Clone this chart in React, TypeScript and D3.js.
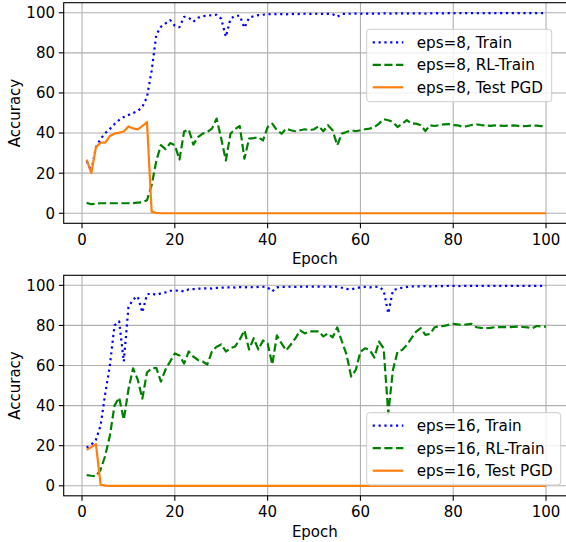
import React from "react";
import * as d3 from "d3";

// ---------- data ----------
const epochs: number[] = Array.from({ length: 100 }, (_, i) => i + 1);
const xTicks: number[] = [0, 20, 40, 60, 80, 100];
const yTicks: number[] = [0, 20, 40, 60, 80, 100];

const top8Labels: string[] = ["eps=8, Train", "eps=8, RL-Train", "eps=8, Test PGD"];
const bottom16Labels: string[] = ["eps=16, Train", "eps=16, RL-Train", "eps=16, Test PGD"];

const eps8Train: number[] = [
  26, 21, 33, 37, 40, 42, 44.5, 46.5, 48, 49,
  50, 51, 53, 58, 71, 89, 93, 94.7, 96.3, 93.5,
  92.8, 98, 97.5, 95.5, 97.5, 98.3, 98.5, 98.8, 99, 97,
  88, 97, 98.5, 98.5, 92.5, 97.5, 98.3, 98.8, 99, 99.3,
  99.2, 99.3, 99.3, 99.2, 99.4, 99.3, 99.4, 99.5, 99.4, 99.5,
  99.5, 99.4, 99.5, 99.3, 98, 99.4, 99.5, 99.5, 99.6, 99.5,
  99.6, 99.6, 99.5, 99.6, 99.7, 99.6, 99.6, 99.7, 99.7, 99.6,
  99.7, 99.7, 99.7, 99.6, 99.7, 99.8, 99.7, 99.7, 99.8, 99.8,
  99.7, 99.8, 99.8, 99.8, 99.8, 99.7, 99.8, 99.8, 99.8, 99.8,
  99.8, 99.8, 99.8, 99.8, 99.8, 99.8, 99.8, 99.8, 99.8, 99.8,
];
const eps8RL: number[] = [
  5.2, 4.5, 4.8, 5, 5, 5, 5, 5, 5, 5,
  5.1, 5.3, 5.5, 6.5, 14, 26, 34, 32, 35, 34,
  26.8, 40.8, 41.8, 34.2, 38, 39.7, 40.5, 42.2, 47.2, 37.2,
  26.3, 39.7, 42, 43.5, 27.2, 37.2, 37.5, 38, 36.3, 43,
  44.7, 41.4, 39.7, 42.2, 41.4, 40.9, 41.4, 41.9, 41.4, 41.9,
  43.5, 40.9, 43.9, 41.4, 33.9, 39.7, 40.5, 41.4, 40.9, 41.4,
  41.9, 42.2, 43, 44.7, 46.9, 46.4, 45.5, 43, 44.7, 46.4,
  44.7, 44.7, 43.9, 41, 43.9, 43.5, 44, 44.3, 44.5, 44,
  43.8, 43.2, 43.5, 44, 44.3, 44, 43.8, 43.6, 43.8, 43.7,
  43.6, 43.7, 43.8, 43.6, 43.5, 43.6, 43.8, 43.7, 43.5, 43.3,
];
const eps8PGD: number[] = [
  26.7, 20, 33, 35.2, 35.2, 38.5, 39.7, 40.2, 40.8, 43.3,
  42.3, 41.8, 43.5, 45.5, 0.8, 0.2, 0, 0, 0, 0,
  0, 0, 0, 0, 0, 0, 0, 0, 0, 0,
  0, 0, 0, 0, 0, 0, 0, 0, 0, 0,
  0, 0, 0, 0, 0, 0, 0, 0, 0, 0,
  0, 0, 0, 0, 0, 0, 0, 0, 0, 0,
  0, 0, 0, 0, 0, 0, 0, 0, 0, 0,
  0, 0, 0, 0, 0, 0, 0, 0, 0, 0,
  0, 0, 0, 0, 0, 0, 0, 0, 0, 0,
  0, 0, 0, 0, 0, 0, 0, 0, 0, 0,
];

const eps16Train: number[] = [
  19, 20.5, 23, 30, 46, 60, 80, 82, 62, 89,
  93, 94.5, 86.5, 95.5, 96, 95.2, 96, 96.5, 97.3, 97.3,
  97.5, 96.9, 98, 98.1, 98.3, 98.4, 98.5, 98.4, 98.7, 98.8,
  98.9, 99, 98.9, 99.1, 99, 99.2, 99, 99.2, 99.3, 99,
  97, 99, 99.2, 99.3, 99.3, 99.2, 99.3, 99.4, 99.3, 99.4,
  99.4, 99.3, 99.4, 99.4, 99.3, 98.8, 98.2, 98, 98.5, 99,
  99.2, 99, 99.3, 99.2, 97.5, 86, 97.5, 98.3, 98.8, 99.2,
  99.4, 99.5, 99.5, 99.6, 99.5, 99.6, 99.6, 99.6, 99.7, 99.7,
  99.6, 99.7, 99.7, 99.7, 99.7, 99.7, 99.7, 99.7, 99.7, 99.7,
  99.7, 99.7, 99.7, 99.7, 99.7, 99.7, 99.7, 99.7, 99.7, 99.7,
];
const eps16RL: number[] = [
  5.3, 5, 4.8, 8, 15, 25, 40, 44, 33, 48,
  58.6, 53, 43.5, 56.5, 58.6, 58.8, 52, 58, 62, 66,
  65, 61, 67, 64.4, 62.75, 62, 60.5, 67, 69.4, 70.5,
  67, 68.6, 69.5, 73, 77.5, 68, 73.6, 68, 72.5, 71,
  60.5, 75, 71, 67.5, 70.5, 73.6, 77.5, 76, 77, 77,
  77, 74.5, 76, 74, 79, 72, 65.5, 54.5, 57.8, 66.9,
  68.6, 67.75, 64, 71.9, 68.6, 36, 57.75, 66.9, 67.75, 70.25,
  73.6, 76.9, 78.6, 75.25, 75.75, 79.1, 79.5, 79.75, 80.3, 80.75,
  80.5, 80.25, 80.5, 80.75, 79.1, 78.8, 78.6, 78.8, 79.1, 79.1,
  79.1, 79.1, 79.3, 79.4, 79.2, 79, 78.6, 79.7, 79.5, 79.4,
];
const eps16PGD: number[] = [
  18, 19.3, 20.8, 0.6, 0.1, 0, 0, 0, 0, 0,
  0, 0, 0, 0, 0, 0, 0, 0, 0, 0,
  0, 0, 0, 0, 0, 0, 0, 0, 0, 0,
  0, 0, 0, 0, 0, 0, 0, 0, 0, 0,
  0, 0, 0, 0, 0, 0, 0, 0, 0, 0,
  0, 0, 0, 0, 0, 0, 0, 0, 0, 0,
  0, 0, 0, 0, 0, 0, 0, 0, 0, 0,
  0, 0, 0, 0, 0, 0, 0, 0, 0, 0,
  0, 0, 0, 0, 0, 0, 0, 0, 0, 0,
  0, 0, 0, 0, 0, 0, 0, 0, 0, 0,
];

// ---------- styles ----------
const FONT = "DejaVu Sans";
const FS = 15;
const LFS = 15.2;
const TXT = "#000000";
const LW = 2.2;
const seriesStyle = [
  { color: "#0000ff", dash: `${LW * 1} ${LW * 1.65}` },
  { color: "#008000", dash: `${LW * 3.7} ${LW * 1.6}` },
  { color: "#ff7f0e", dash: "" },
];

const W = 566;
const H = 542;
const X0 = 63.7;
const X1 = 569;

type PanelProps = {
  yTop: number;
  yBottom: number;
  series: number[][];
  labels: string[];
  legend: { x0: number; x1: number; y0: number; y1: number; row0: number };
};

function Panel({ yTop, yBottom, series, labels, legend }: PanelProps) {
  const x = d3.scaleLinear().domain([-3.95, 104.95]).range([X0, X1]);
  const y = d3.scaleLinear().domain([-5, 105]).range([yBottom, yTop]);
  const line = d3
    .line<number>()
    .x((_, i) => x(epochs[i]))
    .y((d) => y(d));
  const rowGap = 22.5;
  return (
    <g>
      {/* grid */}
      {xTicks.map((t) => (
        <line key={"gx" + t} x1={x(t)} x2={x(t)} y1={yTop} y2={yBottom} stroke="#b0b0b0" strokeWidth={1.1} />
      ))}
      {yTicks.map((t) => (
        <line key={"gy" + t} x1={X0} x2={X1} y1={y(t)} y2={y(t)} stroke="#b0b0b0" strokeWidth={1.1} />
      ))}
      {/* lines */}
      {series.map((s, i) => (
        <path
          key={"s" + i}
          d={line(s) || ""}
          fill="none"
          stroke={seriesStyle[i].color}
          strokeWidth={LW}
          strokeDasharray={seriesStyle[i].dash || undefined}
          strokeLinejoin="round"
        />
      ))}
      {/* spines */}
      <rect x={X0} y={yTop} width={X1 - X0} height={yBottom - yTop} fill="none" stroke="#000" strokeWidth={1.1} />
      {/* x ticks */}
      {xTicks.map((t) => (
        <g key={"xt" + t}>
          <line x1={x(t)} x2={x(t)} y1={yBottom} y2={yBottom + 4.9} stroke="#000" strokeWidth={1.1} />
          <text x={x(t)} y={yBottom + 21.5} textAnchor="middle" fontFamily={FONT} fontSize={FS} fill={TXT}>
            {t}
          </text>
        </g>
      ))}
      <text x={(X0 + X1) / 2 - 1.5} y={yBottom + 40.8} textAnchor="middle" fontFamily={FONT} fontSize={FS} fill={TXT}>
        Epoch
      </text>
      {/* y ticks */}
      {yTicks.map((t) => (
        <g key={"yt" + t}>
          <line x1={X0 - 4.9} x2={X0} y1={y(t)} y2={y(t)} stroke="#000" strokeWidth={1.1} />
          <text x={55} y={y(t) + 5.4} textAnchor="end" fontFamily={FONT} fontSize={FS} fill={TXT}>
            {t}
          </text>
        </g>
      ))}
      <text
        transform={`translate(20,${(yTop + yBottom) / 2}) rotate(-90)`}
        textAnchor="middle"
        fontFamily={FONT}
        fontSize={FS}
        fill={TXT}
      >
        Accuracy
      </text>
      {/* legend */}
      <rect
        x={legend.x0}
        y={legend.y0}
        width={legend.x1 - legend.x0}
        height={legend.y1 - legend.y0}
        rx={3}
        fill="#ffffff"
        fillOpacity={0.8}
        stroke="#cccccc"
        strokeWidth={1}
      />
      {labels.map((lab, i) => {
        const ry = legend.row0 + i * rowGap;
        return (
          <g key={"lg" + i}>
            <line
              x1={legend.x0 + 6}
              x2={legend.x0 + 36.6}
              y1={ry}
              y2={ry}
              stroke={seriesStyle[i].color}
              strokeWidth={LW}
              strokeDasharray={seriesStyle[i].dash || undefined}
            />
            <text x={legend.x0 + 50} y={ry + 5.5} fontFamily={FONT} fontSize={LFS} fill={TXT}>
              {lab}
            </text>
          </g>
        );
      })}
    </g>
  );
}

export default function App() {
  return (
    <div style={{ position: "fixed", left: 0, top: 0, width: W, height: H, background: "#fff" }}>
      <svg width={W} height={H} viewBox={`0 0 ${W} ${H}`} style={{ display: "block" }}>
        <rect x={0} y={0} width={W} height={H} fill="#fff" />
        <Panel
          yTop={2.7}
          yBottom={223.3}
          series={[eps8Train, eps8RL, eps8PGD]}
          labels={top8Labels}
          legend={{ x0: 366.7, x1: 551.7, y0: 29.3, y1: 101.7, row0: 42.3 }}
        />
        <Panel
          yTop={275.3}
          yBottom={495.8}
          series={[eps16Train, eps16RL, eps16PGD]}
          labels={bottom16Labels}
          legend={{ x0: 366.7, x1: 560.7, y0: 412.7, y1: 485, row0: 425.7 }}
        />
      </svg>
    </div>
  );
}
